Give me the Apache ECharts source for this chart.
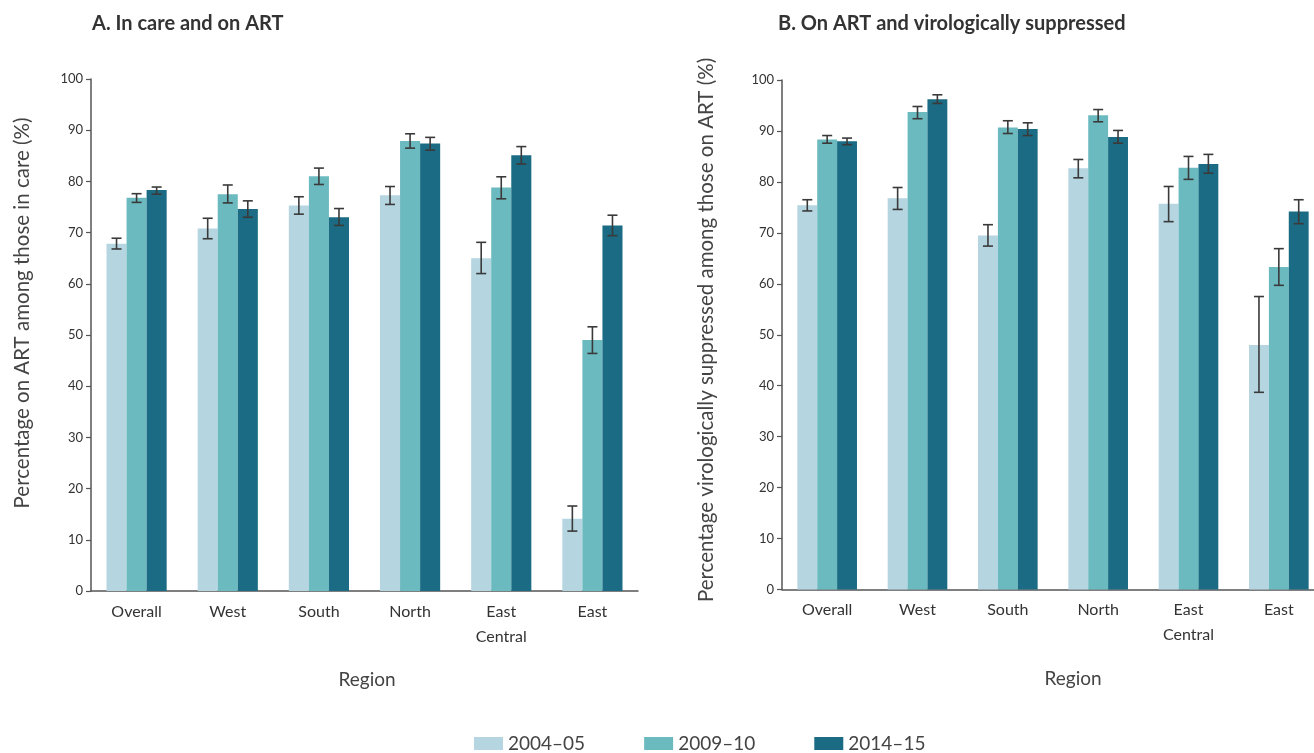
<!DOCTYPE html>
<html><head><meta charset="utf-8">
<script src="https://cdn.jsdelivr.net/npm/echarts@6/dist/echarts.min.js"></script>
<style>html,body{margin:0;padding:0;background:#fff}#c{width:1314px;height:753px}</style>
</head><body><div id="c"></div>
<script>
const categories = ['Overall', 'West', 'South', 'North', 'East\nCentral', 'East'];
const seriesNames = ['2004\u201305', '2009\u201310', '2014\u201315'];
const colors = ['#b5d5e1', '#6bbabf', '#1a6b83'];

// Panel A: In care and on ART
const a2004 = [67.8, 70.8, 75.3, 77.3, 65.0, 14.1];
const a2009 = [76.8, 77.5, 81.0, 87.9, 78.8, 49.0];
const a2014 = [78.3, 74.6, 73.0, 87.4, 85.1, 71.4];
const a2004Low = [66.8, 68.8, 73.6, 75.5, 62.0, 11.7];
const a2004High = [68.9, 72.8, 77.0, 79.0, 68.1, 16.6];
const a2009Low = [75.9, 75.8, 79.4, 86.5, 76.6, 46.4];
const a2009High = [77.6, 79.3, 82.6, 89.3, 80.9, 51.6];
const a2014Low = [77.5, 73.0, 71.4, 86.1, 83.4, 69.4];
const a2014High = [78.9, 76.2, 74.7, 88.6, 86.8, 73.4];

// Panel B: On ART and virologically suppressed
const b2004 = [75.4, 76.8, 69.5, 82.7, 75.7, 48.0];
const b2009 = [88.3, 93.7, 90.7, 93.1, 82.8, 63.3];
const b2014 = [88.0, 96.2, 90.4, 88.8, 83.5, 74.2];
const b2004Low = [74.3, 74.6, 67.4, 80.8, 72.2, 38.7];
const b2004High = [76.5, 78.9, 71.6, 84.4, 79.1, 57.5];
const b2009Low = [87.6, 92.4, 89.5, 91.8, 80.5, 59.7];
const b2009High = [89.1, 94.8, 92.0, 94.2, 85.0, 66.9];
const b2014Low = [87.3, 95.4, 89.1, 87.6, 81.7, 71.8];
const b2014High = [88.6, 97.1, 91.6, 90.1, 85.4, 76.5];

const yTicks = [0, 10, 20, 30, 40, 50, 60, 70, 80, 90, 100];

const GAP = 0.34;
const FONT = 'Lato, "Open Sans", sans-serif';

function errData(lows, highs) {
  const out = [];
  lows.forEach((lo, s) => lo.forEach((v, i) => out.push([i, v, highs[s][i], s])));
  return out;
}

function renderErr(params, api) {
  const ci = api.value(0), lo = api.value(1), hi = api.value(2), s = api.value(3);
  const band = api.size([1, 0])[0];
  const bw = band * (1 - GAP) / 3;
  const cx = api.coord([ci, 0])[0] + (s - 1) * bw;
  const yl = api.coord([ci, lo])[1], yh = api.coord([ci, hi])[1];
  const c = 5;
  const st = { stroke: '#3a3a3a', lineWidth: 1.6 };
  return { type: 'group', children: [
    { type: 'line', shape: { x1: cx, y1: yl, x2: cx, y2: yh }, style: st },
    { type: 'line', shape: { x1: cx - c, y1: yl, x2: cx + c, y2: yl }, style: st },
    { type: 'line', shape: { x1: cx - c, y1: yh, x2: cx + c, y2: yh }, style: st }
  ]};
}

function xAx(gi) {
  return {
    type: 'category', gridIndex: gi, data: categories,
    axisTick: { show: false },
    axisLine: { lineStyle: { color: '#555', width: 1.5 } },
    axisLabel: { color: '#333', fontSize: 16, fontFamily: FONT, margin: 8, lineHeight: 25 }
  };
}
function yAx(gi) {
  return {
    type: 'value', gridIndex: gi, min: 0, max: 100, interval: 10,
    splitLine: { show: false },
    axisLine: { show: true, lineStyle: { color: '#555', width: 1.5 } },
    axisTick: { show: true, length: 5, lineStyle: { color: '#555', width: 1.2 } },
    axisLabel: { color: '#333', fontSize: 13, fontFamily: FONT, margin: 8,
      formatter: v => yTicks.includes(v) ? String(v) : '' }
  };
}
function bars(vals, xi) {
  return vals.map((d, s) => ({
    name: seriesNames[s], type: 'bar', xAxisIndex: xi, yAxisIndex: xi, data: d,
    barGap: '0%', barCategoryGap: (GAP * 100) + '%',
    itemStyle: { color: colors[s] }, emphasis: { disabled: true }
  }));
}

const chart = echarts.init(document.getElementById('c'));
chart.setOption({
  animation: false,
  textStyle: { fontFamily: FONT },
  grid: [
    { left: 91, top: 79, width: 547, bottom: 162, outerBoundsMode: 'none', containLabel: false },
    { left: 782, top: 80, width: 542, bottom: 163.5, outerBoundsMode: 'none', containLabel: false }
  ],
  xAxis: [xAx(0), xAx(1)],
  yAxis: [yAx(0), yAx(1)],
  legend: {
    data: seriesNames, left: 474, top: 734, padding: 0, itemWidth: 29, itemHeight: 13, itemGap: 59,
    textStyle: { fontSize: 19, color: '#444', fontFamily: FONT }, icon: 'rect', selectedMode: false
  },
  series: [
    ...bars([a2004, a2009, a2014], 0),
    ...bars([b2004, b2009, b2014], 1),
    { type: 'custom', xAxisIndex: 0, yAxisIndex: 0, z: 10, renderItem: renderErr,
      data: errData([a2004Low, a2009Low, a2014Low], [a2004High, a2009High, a2014High]) },
    { type: 'custom', xAxisIndex: 1, yAxisIndex: 1, z: 10, renderItem: renderErr,
      data: errData([b2004Low, b2009Low, b2014Low], [b2004High, b2009High, b2014High]) }
  ],
  graphic: [
    { type: 'text', left: 92, top: 14, style: { text: 'A. In care and on ART', font: 'bold 20px ' + FONT, fill: '#333' } },
    { type: 'text', left: 778, top: 14, style: { text: 'B. On ART and virologically suppressed', font: 'bold 20px ' + FONT, fill: '#333' } },
    { type: 'text', x: 22, y: 313, rotation: Math.PI / 2,
      style: { text: 'Percentage on ART among those in care (%)', font: '20.5px ' + FONT, fill: '#444', textAlign: 'center', textVerticalAlign: 'middle' } },
    { type: 'text', x: 706, y: 330, rotation: Math.PI / 2,
      style: { text: 'Percentage virologically suppressed among those on ART (%)', font: '20.5px ' + FONT, fill: '#444', textAlign: 'center', textVerticalAlign: 'middle' } },
    { type: 'text', x: 367, y: 680, style: { text: 'Region', font: '19px ' + FONT, fill: '#444', textAlign: 'center', textVerticalAlign: 'middle' } },
    { type: 'text', x: 1073, y: 679, style: { text: 'Region', font: '19px ' + FONT, fill: '#444', textAlign: 'center', textVerticalAlign: 'middle' } }
  ]
});
</script></body></html>
